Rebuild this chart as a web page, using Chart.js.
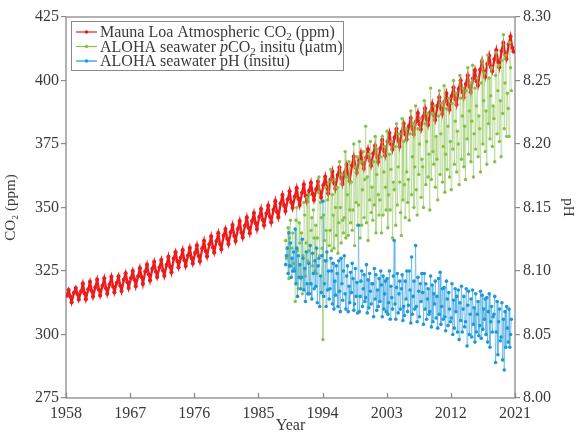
<!DOCTYPE html>
<html><head><meta charset="utf-8">
<script src="https://cdn.jsdelivr.net/npm/chart.js@4.4.0/dist/chart.umd.min.js"></script>
<style>html,body{margin:0;padding:0;background:#fff}#wrap{width:579px;height:432px}</style>
</head><body><div id="wrap"><canvas id="c" width="579" height="432"></canvas></div>
<script>
// ---------- DATA ----------
const xTickYears = [1958, 1967, 1976, 1985, 1994, 2003, 2012, 2021];
const co2Ticks = [275, 300, 325, 350, 375, 400, 425];
const phTicks = [8.00, 8.05, 8.10, 8.15, 8.20, 8.25, 8.30];

// Mauna Loa CO2 (ppm): one row per year from 1958, values for Feb, May, Aug, Oct
const maunaStartYear = 1958;
const maunaMonthFrac = [0.12, 0.37, 0.62, 0.79];
const maunaCO2 = [
 [315.3,317.5,314.9,312.7],[316.4,318.3,315.9,313.8],[317.0,320.0,316.2,313.9],[317.8,320.7,317.1,314.9],
 [318.6,321.6,317.7,315.4],[319.2,322.1,318.2,316.0],[319.7,322.7,318.8,316.6],[320.3,322.9,319.2,317.1],
 [321.6,324.1,320.6,318.3],[322.2,325.0,321.6,319.0],[322.9,326.1,322.6,319.9],[324.8,327.5,323.7,321.3],
 [325.9,328.6,324.7,322.6],[326.4,329.3,325.2,323.1],[327.4,330.6,326.6,324.5],[329.9,332.4,328.9,326.5],
 [330.3,333.2,329.2,327.0],[331.1,334.1,330.1,328.0],[332.1,335.1,330.9,328.8],[333.9,336.9,332.8,330.7],
 [335.5,338.6,334.3,332.3],[336.8,339.9,335.6,333.6],[338.9,341.5,337.7,335.6],[340.3,343.1,338.8,336.8],
 [341.5,344.6,340.1,338.2],[342.9,346.1,342.0,339.9],[344.7,347.8,343.8,341.5],[346.3,349.4,345.1,343.0],
 [347.6,350.7,346.4,344.2],[349.1,352.5,348.2,346.2],[351.6,354.9,350.7,348.6],[353.2,356.4,352.0,349.9],
 [354.3,357.6,353.4,351.0],[355.8,359.0,354.5,352.3],[356.6,359.7,355.3,353.0],[357.2,360.2,356.0,354.0],
 [358.8,362.1,357.8,355.5],[360.9,364.2,359.6,357.4],[362.8,365.7,361.7,359.3],[363.8,366.8,362.8,360.4],
 [366.5,370.0,365.8,363.7],[368.6,371.6,367.4,365.3],[369.6,372.9,368.5,366.4],[371.3,374.4,370.0,367.9],
 [373.3,376.6,372.3,370.4],[375.9,379.3,374.9,372.8],[377.6,380.9,376.4,374.0],[379.9,383.0,378.8,376.8],
 [382.0,385.2,380.9,378.8],[383.9,387.2,382.7,380.7],[385.7,389.0,384.6,382.5],[387.5,390.8,386.3,384.4],
 [390.0,393.4,389.0,386.8],[391.7,394.9,390.6,388.5],[393.9,397.2,392.6,390.5],[396.7,400.0,395.5,393.3],
 [398.6,402.0,397.5,395.4],[400.8,404.0,399.7,398.0],[404.2,407.6,403.3,401.4],[406.5,409.8,405.3,403.6],
 [408.4,411.9,407.3,405.2],[411.6,414.8,410.2,408.5],[414.2,417.3,412.9,411.4]
];

// ALOHA (HOT) cruises: one row per year from 1988, nine cruises per year (null = no cruise)
const alohaStartYear = 1988;
const alohaCruiseFrac = [0.05, 0.16, 0.27, 0.38, 0.49, 0.60, 0.71, 0.82, 0.93];
const alohaPCO2 = [
 [null,null,null,null,null,null,null,337,330],
 [331,342,322,338,345,327,334,340,328],
 [326,313,345,350,333,318,344,336,322],
 [340,316,331,352,347,323,336,354,329],
 [333,355,320,341,346,327,349,338,325],
 [343,324,338,356,362,331,352,346,334],
 [298,347,337,358,341,329,353,360,335],
 [341,365,333,355,347,334,361,350,339],
 [358,332,344,368,350,336,363,345,340],
 [346,372,338,362,355,339,368,349,344],
 [360,341,349,375,335,366,352,370,343],
 [351,376,338,368,343,357,372,346,361],
 [382,344,362,337,371,353,376,348,358],
 [345,368,351,378,340,363,373,355,347],
 [353,370,340,378,347,364,374,358,349],
 [380,342,355,371,349,365,376,338,360],
 [357,374,343,383,351,366,379,360,348],
 [339,385,353,376,359,346,381,364,352],
 [361,345,379,388,355,370,383,350,366],
 [390,357,347,381,363,375,385,354,369],
 [366,350,392,383,359,376,387,362,371],
 [349,397,361,387,372,367,390,358,378],
 [369,353,386,396,363,379,391,360,374],
 [398,356,371,389,365,382,393,362,376],
 [357,391,373,400,367,384,395,364,380],
 [375,359,402,393,369,386,397,366,382],
 [361,396,377,405,371,388,399,368,384],
 [406,362,379,397,373,390,401,370,386],
 [381,364,399,408,375,392,403,372,388],
 [367,410,383,401,377,394,405,374,390],
 [385,368,402,411,379,396,406,376,392],
 [370,408,387,418,381,399,410,378,395],
 [389,378,415,405,396,null,null,null,null]
];
const alohaPH = [
 [null,null,null,null,null,null,null,8.105,8.112],
 [8.118,8.098,8.130,8.104,8.122,8.095,8.110,8.100,8.115],
 [8.100,8.133,8.090,8.118,8.080,8.112,8.095,8.105,8.086],
 [8.095,8.125,8.110,8.085,8.102,8.076,8.115,8.090,8.082],
 [8.106,8.082,8.120,8.090,8.078,8.114,8.098,8.086,8.108],
 [8.088,8.118,8.075,8.104,8.110,8.072,8.096,8.083,8.112],
 [8.155,8.080,8.090,8.108,8.072,8.115,8.085,8.100,8.078],
 [8.086,8.110,8.100,8.074,8.106,8.070,8.092,8.081,8.104],
 [8.098,8.072,8.108,8.084,8.068,8.110,8.090,8.077,8.100],
 [8.112,8.082,8.070,8.096,8.104,8.068,8.088,8.075,8.099],
 [8.083,8.106,8.094,8.069,8.074,8.102,8.080,8.091,8.067],
 [8.136,8.068,8.080,8.092,8.100,8.072,8.086,8.097,8.076],
 [8.079,8.105,8.067,8.093,8.071,8.098,8.084,8.074,8.090],
 [8.090,8.064,8.102,8.078,8.097,8.069,8.085,8.072,8.094],
 [8.076,8.100,8.089,8.064,8.096,8.070,8.082,8.092,8.068],
 [8.094,8.066,8.075,8.100,8.062,8.088,8.079,8.070,8.096],
 [8.124,8.074,8.062,8.087,8.098,8.067,8.082,8.092,8.070],
 [8.086,8.097,8.061,8.072,8.065,8.092,8.078,8.100,8.068],
 [8.073,8.100,8.085,8.059,8.111,8.066,8.080,8.092,8.070],
 [8.120,8.072,8.060,8.095,8.084,8.064,8.090,8.076,8.098],
 [8.083,8.058,8.098,8.070,8.090,8.062,8.078,8.086,8.066],
 [8.068,8.096,8.056,8.089,8.060,8.082,8.074,8.092,8.063],
 [8.080,8.055,8.094,8.066,8.099,8.058,8.072,8.086,8.062],
 [8.087,8.064,8.053,8.092,8.078,8.057,8.083,8.070,8.060],
 [8.063,8.090,8.050,8.077,8.055,8.086,8.068,8.080,8.052],
 [8.085,8.046,8.075,8.061,8.088,8.052,8.070,8.080,8.056],
 [8.060,8.086,8.041,8.073,8.084,8.050,8.066,8.078,8.048],
 [8.085,8.058,8.071,8.044,8.082,8.052,8.066,8.076,8.049],
 [8.057,8.084,8.047,8.081,8.054,8.070,8.062,8.078,8.050],
 [8.079,8.044,8.068,8.082,8.040,8.060,8.072,8.052,8.064],
 [8.066,8.080,8.028,8.052,8.076,8.034,8.060,8.070,8.045],
 [8.048,8.075,8.030,8.062,8.022,8.068,8.040,8.072,8.055],
 [8.044,8.070,8.040,8.050,8.062,null,null,null,null]
];

// ---------- BUILD POINTS ----------
function rowsToPoints(rows, startYear, fracs) {
  const pts = [];
  rows.forEach((row, i) => {
    row.forEach((v, j) => {
      if (v !== null) pts.push({ x: startYear + i + fracs[j], y: v });
    });
  });
  return pts;
}
const maunaPts = rowsToPoints(maunaCO2, maunaStartYear, maunaMonthFrac);
const pco2Pts = rowsToPoints(alohaPCO2, alohaStartYear, alohaCruiseFrac);
const phPts = rowsToPoints(alohaPH, alohaStartYear, alohaCruiseFrac);

const SERIF = "'Liberation Serif', 'DejaVu Serif', 'Times New Roman', serif";
const TXT = '#3a3a3a';
const AX = '#8a8a8a';
const RED = '#ec1c1c', GREEN = '#86c04a', BLUE = '#1f98d8';

const framePlugin = {
  id: 'frame',
  beforeDatasetsDraw(chart) {
    const { ctx, chartArea: a } = chart;
    ctx.save();
    ctx.strokeStyle = AX;
    ctx.lineWidth = 1.3;
    ctx.strokeRect(a.left, a.top, a.right - a.left, a.bottom - a.top);
    const xs = chart.scales.x;
    ctx.beginPath();
    xTickYears.forEach(v => {
      const px = Math.round(xs.getPixelForValue(v)) + 0.5;
      ctx.moveTo(px, a.bottom);
      ctx.lineTo(px, a.bottom - 5);
    });
    ctx.stroke();
    ctx.restore();
  }
};

const legendPlugin = {
  id: 'boxLegend',
  afterDraw(chart) {
    const ctx = chart.ctx;
    const bx = 71, by = 21, bw = 272, bh = 49;
    ctx.save();
    ctx.fillStyle = '#fff';
    ctx.fillRect(bx, by, bw, bh);
    ctx.strokeStyle = '#8a8a8a';
    ctx.lineWidth = 1;
    ctx.strokeRect(bx + 0.5, by + 0.5, bw, bh);
    const rows = [
      { c: RED, y: 32, parts: [['n', 'Mauna Loa Atmospheric CO'], ['s', '2'], ['n', ' (ppm)']] },
      { c: GREEN, y: 46.5, parts: [['n', 'ALOHA seawater '], ['i', 'p'], ['n', 'CO'], ['s', '2'], ['n', ' insitu (μatm)']] },
      { c: BLUE, y: 61, parts: [['n', 'ALOHA seawater pH (insitu)']] }
    ];
    rows.forEach(r => {
      ctx.strokeStyle = r.c;
      ctx.lineWidth = 1.2;
      ctx.beginPath();
      ctx.moveTo(76, r.y); ctx.lineTo(97, r.y); ctx.stroke();
      ctx.fillStyle = r.c;
      ctx.beginPath(); ctx.arc(86.5, r.y, 1.8, 0, Math.PI * 2); ctx.fill();
      let x = 100;
      ctx.fillStyle = TXT;
      ctx.textBaseline = 'alphabetic';
      r.parts.forEach(([k, t]) => {
        let base = r.y + 5;
        if (k === 'n') ctx.font = '16px ' + SERIF;
        else if (k === 'i') ctx.font = 'italic 16px ' + SERIF;
        else { ctx.font = '11px ' + SERIF; base += 3; }
        ctx.fillText(t, x, base);
        x += ctx.measureText(t).width;
      });
    });
    ctx.restore();
  }
};

new Chart(document.getElementById('c'), {
  type: 'line',
  data: {
    datasets: [
      { label: 'Mauna Loa Atmospheric CO₂ (ppm)', data: maunaPts, yAxisID: 'y', order: 3,
        borderColor: RED, backgroundColor: RED, borderWidth: 2.3,
        pointRadius: 2.1, pointBorderWidth: 0, pointBackgroundColor: RED, tension: 0 },
      { label: 'ALOHA seawater pCO₂ insitu (μatm)', data: pco2Pts, yAxisID: 'y', order: 2,
        borderColor: 'rgba(150,205,100,0.55)', backgroundColor: GREEN, borderWidth: 0.9,
        pointRadius: 1.7, pointBorderWidth: 0, pointBackgroundColor: GREEN, tension: 0 },
      { label: 'ALOHA seawater pH (insitu)', data: phPts, yAxisID: 'y2', order: 1,
        borderColor: 'rgba(60,165,225,0.6)', backgroundColor: BLUE, borderWidth: 0.9,
        pointRadius: 1.8, pointBorderWidth: 0, pointBackgroundColor: BLUE, tension: 0 }
    ]
  },
  options: {
    responsive: false,
    animation: false,
    layout: { padding: { top: 17, left: 0, right: 0, bottom: 0 } },
    plugins: { legend: { display: false }, tooltip: { enabled: false } },
    scales: {
      x: {
        type: 'linear', min: 1958, max: 2021,
        afterBuildTicks: s => { s.ticks = xTickYears.map(v => ({ value: v })); },
        afterFit: s => { s.height = 34; },
        ticks: { font: { family: SERIF, size: 16 }, color: TXT, maxRotation: 0, autoSkip: false, padding: 6,
                 callback: v => String(v) },
        grid: { display: true, drawOnChartArea: false, drawTicks: false, color: 'rgba(0,0,0,0)' },
        border: { display: false },
        title: { display: true, text: 'Year', font: { family: SERIF, size: 16 }, color: TXT, padding: { top: 0, bottom: -3 } }
      },
      y: {
        position: 'left', min: 275, max: 425,
        afterBuildTicks: s => { s.ticks = co2Ticks.map(v => ({ value: v })); },
        afterFit: s => { s.width = 66; },
        ticks: { font: { family: SERIF, size: 16 }, color: TXT, padding: 2 },
        grid: { drawOnChartArea: false, drawTicks: true, tickLength: 5, color: AX, lineWidth: 1.2 },
        border: { display: false },
        title: { display: true, text: 'CO₂ (ppm)', font: { family: SERIF, size: 15 }, color: TXT, padding: 2 }
      },
      y2: {
        position: 'right', min: 8.0, max: 8.3,
        afterBuildTicks: s => { s.ticks = phTicks.map(v => ({ value: v })); },
        afterFit: s => { s.width = 64; },
        ticks: { font: { family: SERIF, size: 16 }, color: TXT, padding: 3, callback: v => Number(v).toFixed(2) },
        grid: { drawOnChartArea: false, drawTicks: true, tickLength: 5, color: AX, lineWidth: 1.2 },
        border: { display: false },
        title: { display: true, text: 'pH', font: { family: SERIF, size: 15 }, color: TXT, padding: 2 }
      }
    }
  },
  plugins: [framePlugin, legendPlugin]
});
</script></body></html>
